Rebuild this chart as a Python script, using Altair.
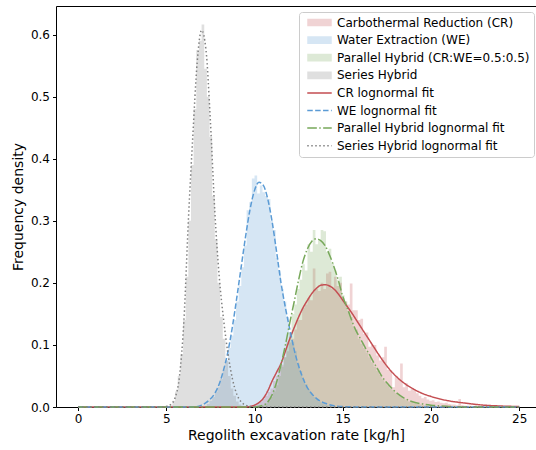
import altair as alt
import pandas as pd

# ---------------- names ----------------
HIST_NAMES = ["Carbothermal Reduction (CR)", "Water Extraction (WE)",
              "Parallel Hybrid (CR:WE=0.5:0.5)", "Series Hybrid"]
FIT_NAMES = ["CR lognormal fit", "WE lognormal fit",
             "Parallel Hybrid lognormal fit", "Series Hybrid lognormal fit"]

# ---------------- histogram (density) values ----------------
BIN_W = 0.15
cr_start = 9.7
cr_hist = [0.001, 0.002, 0.004, 0.006, 0.009, 0.013, 0.018, 0.024, 0.03, 0.042,
           0.05, 0.06, 0.068, 0.08, 0.09, 0.104, 0.11, 0.125, 0.14, 0.14,
           0.16, 0.165, 0.175, 0.172, 0.223, 0.19, 0.187, 0.2, 0.19, 0.215,
           0.218, 0.19, 0.21, 0.195, 0.2, 0.175, 0.17, 0.165, 0.199, 0.156,
           0.156, 0.14, 0.142, 0.118, 0.12, 0.097, 0.1, 0.1, 0.083, 0.075,
           0.08, 0.097, 0.06, 0.059, 0.032, 0.05, 0.045, 0.07, 0.032, 0.038,
           0.026, 0.03, 0.028, 0.022, 0.018, 0.014, 0.016, 0.012, 0.01, 0.011,
           0.008, 0.009, 0.007, 0.006, 0.007, 0.005, 0.004, 0.004, 0.003, 0.013,
           0.003, 0.002, 0.002, 0.002, 0.001, 0.002, 0.001, 0.001, 0.001, 0.0005]

we_start = 7.3
we_hist = [0.005, 0.01, 0.016, 0.024, 0.032, 0.045, 0.06, 0.075, 0.095, 0.115,
           0.14, 0.17, 0.195, 0.225, 0.26, 0.317, 0.33, 0.368, 0.373, 0.344,
           0.357, 0.346, 0.34, 0.335, 0.30, 0.285, 0.24, 0.22, 0.19, 0.17,
           0.145, 0.12, 0.105, 0.09, 0.07, 0.058, 0.045, 0.037, 0.028, 0.022,
           0.016, 0.012, 0.009, 0.006, 0.004, 0.003, 0.002, 0.001]

ph_start = 10.3
ph_hist = [0.001, 0.003, 0.006, 0.01, 0.016, 0.025, 0.035, 0.05, 0.065, 0.08,
           0.105, 0.12, 0.15, 0.165, 0.19, 0.205, 0.23, 0.22, 0.262, 0.25,
           0.285, 0.262, 0.27, 0.285, 0.283, 0.25, 0.255, 0.232, 0.22, 0.205,
           0.21, 0.18, 0.17, 0.155, 0.145, 0.13, 0.125, 0.11, 0.102, 0.095,
           0.088, 0.08, 0.072, 0.065, 0.058, 0.052, 0.045, 0.04, 0.035, 0.03,
           0.027, 0.022, 0.019, 0.016, 0.013, 0.011, 0.009, 0.008, 0.006, 0.005,
           0.004, 0.003, 0.0025, 0.002, 0.0015, 0.001]

sh_start = 5.2
sh_hist = [0.003, 0.01, 0.025, 0.05, 0.085, 0.14, 0.21, 0.30, 0.39, 0.48,
           0.575, 0.59, 0.616, 0.545, 0.50, 0.435, 0.34, 0.27, 0.20, 0.145,
           0.11, 0.075, 0.05, 0.03, 0.018, 0.009, 0.004, 0.002, 0.001]

# ---------------- lognormal fit curves ----------------
cr_fit_x = [0, 9.5, 10.0, 10.25, 10.5, 10.75, 11.0, 11.25, 11.5, 11.75, 12.0, 12.25,
            12.5, 12.75, 13.0, 13.25, 13.5, 13.75, 14.0, 14.25, 14.5, 14.75, 15.0,
            15.25, 15.5, 15.75, 16.0, 16.25, 16.5, 16.75, 17.0, 17.5, 18.0, 18.5,
            19.0, 19.5, 20.0, 20.5, 21.0, 22.0, 23.0, 24.0, 25.0]
cr_fit_y = [0, 0.0, 0.003, 0.007, 0.014, 0.026, 0.042, 0.056, 0.07, 0.09, 0.11, 0.128,
            0.145, 0.16, 0.172, 0.183, 0.191, 0.196, 0.197, 0.195, 0.19, 0.182, 0.172,
            0.162, 0.152, 0.141, 0.13, 0.119, 0.108, 0.097, 0.086, 0.066, 0.05, 0.038,
            0.029, 0.022, 0.017, 0.013, 0.01, 0.006, 0.003, 0.0015, 0.0007]

we_fit_x = [0, 6.5, 7.0, 7.25, 7.5, 7.75, 8.0, 8.25, 8.5, 8.75, 9.0, 9.25, 9.5, 9.75,
            10.0, 10.25, 10.5, 10.75, 11.0, 11.25, 11.5, 11.75, 12.0, 12.25, 12.5,
            12.75, 13.0, 13.25, 13.5, 13.75, 14.0, 14.5, 15.0, 16.0, 25.0]
we_fit_y = [0, 0.0, 0.003, 0.007, 0.013, 0.022, 0.037, 0.06, 0.09, 0.13, 0.177, 0.227,
            0.276, 0.319, 0.349, 0.362, 0.357, 0.335, 0.298, 0.25, 0.20, 0.16, 0.125,
            0.092, 0.066, 0.046, 0.031, 0.021, 0.014, 0.009, 0.006, 0.002, 0.0007, 0.0,
            0.0]

ph_fit_x = [0, 10.0, 10.5, 10.75, 11.0, 11.25, 11.5, 11.75, 12.0, 12.25, 12.5, 12.75,
            13.0, 13.25, 13.5, 13.75, 14.0, 14.25, 14.5, 14.75, 15.0, 15.25, 15.5,
            15.75, 16.0, 16.25, 16.5, 16.75, 17.0, 17.25, 17.5, 18.0, 18.5, 19.0,
            19.5, 20.0, 21.0, 22.0, 25.0]
ph_fit_y = [0, 0.0, 0.003, 0.008, 0.02, 0.04, 0.068, 0.10, 0.136, 0.17, 0.205, 0.235,
            0.255, 0.267, 0.271, 0.268, 0.26, 0.245, 0.226, 0.204, 0.178, 0.16, 0.14,
            0.123, 0.11, 0.097, 0.085, 0.072, 0.06, 0.048, 0.039, 0.024, 0.014, 0.008,
            0.005, 0.003, 0.001, 0.0, 0.0]

sh_fit_x = [0, 4.75, 5.0, 5.25, 5.5, 5.75, 6.0, 6.25, 6.5, 6.75, 7.0, 7.25, 7.5, 7.75,
            8.0, 8.25, 8.5, 8.75, 9.0, 9.25, 9.5, 9.75, 10.0, 25.0]
sh_fit_y = [0, 0.0, 0.001, 0.004, 0.015, 0.05, 0.14, 0.30, 0.435, 0.555, 0.607, 0.575,
            0.46, 0.315, 0.21, 0.14, 0.085, 0.045, 0.02, 0.008, 0.003, 0.001, 0.0, 0.0]

# ---------------- colours / styles ----------------
HIST_COLORS = ["#c44e52", "#5b9bd5", "#77a85a", "#7f7f7f"]
HIST_LEGEND_COLORS = ["#f0d3d4", "#d6e6f4", "#dde9d6", "#dfdfdf"]
FIT_COLORS = ["#c44e52", "#5b9bd5", "#77a85a", "#808080"]
FIT_DASHES = [[1, 0], [5.5, 2.4], [9.6, 2.4, 1.5, 2.4], [1.5, 2.5]]

# ---------------- tables ----------------
hist_rows = []
for name, start, vals in [(HIST_NAMES[0], cr_start, cr_hist),
                          (HIST_NAMES[1], we_start, we_hist),
                          (HIST_NAMES[2], ph_start, ph_hist),
                          (HIST_NAMES[3], sh_start, sh_hist)]:
    for i, v in enumerate(vals):
        hist_rows.append({"series": name, "x": round(start + i * BIN_W, 4), "y": v})
    hist_rows.append({"series": name, "x": round(start + len(vals) * BIN_W, 4), "y": 0.0})
hist_df = pd.DataFrame(hist_rows)
hist_df["order"] = hist_df["series"].map({n: i for i, n in enumerate(HIST_NAMES)})

fit_rows = []
for name, xs, ys in [(FIT_NAMES[0], cr_fit_x, cr_fit_y),
                     (FIT_NAMES[1], we_fit_x, we_fit_y),
                     (FIT_NAMES[2], ph_fit_x, ph_fit_y),
                     (FIT_NAMES[3], sh_fit_x, sh_fit_y)]:
    for x, y in zip(xs, ys):
        fit_rows.append({"series": name, "x": x, "y": y})
fit_df = pd.DataFrame(fit_rows)

ALL_NAMES = HIST_NAMES + FIT_NAMES
XDOM = [-1.25, 25.95]
YDOM = [0, 0.646]

x_scale = alt.Scale(domain=XDOM, nice=False, zero=False)
y_scale = alt.Scale(domain=YDOM, nice=False, zero=False)
y_axis = alt.Axis(values=[0, 0.1, 0.2, 0.3, 0.4, 0.5, 0.6], format=".1f",
                  title="Frequency density", grid=False)

legend = alt.Legend(title=None, orient="none", legendX=243, legendY=6)

hist = alt.Chart(hist_df).mark_area(interpolate="step-after", opacity=0.25).encode(
    x=alt.X("x:Q", scale=x_scale,
            axis=alt.Axis(values=[0, 5, 10, 15, 20, 25], format="d",
                          title="Regolith excavation rate [kg/h]", grid=False)),
    y=alt.Y("y:Q", scale=y_scale, stack=None, axis=y_axis),
    fill=alt.Fill("series:N", scale=alt.Scale(domain=HIST_NAMES, range=HIST_COLORS),
                  legend=None),
    detail="series:N",
    order="order:Q",
)

lines = alt.Chart(fit_df).mark_line(interpolate="monotone").encode(
    x=alt.X("x:Q", scale=x_scale,
            axis=alt.Axis(orient="top", labels=False, ticks=False, title=None,
                          grid=False, domain=True)),
    y=alt.Y("y:Q", scale=y_scale, axis=y_axis),
    stroke=alt.Stroke("series:N",
                      scale=alt.Scale(domain=ALL_NAMES,
                                      range=HIST_LEGEND_COLORS + FIT_COLORS),
                      legend=legend),
    strokeDash=alt.StrokeDash("series:N",
                              scale=alt.Scale(domain=ALL_NAMES,
                                              range=[[1, 0]] * 4 + FIT_DASHES),
                              legend=legend),
    strokeWidth=alt.StrokeWidth("series:N",
                                scale=alt.Scale(type="ordinal", domain=ALL_NAMES,
                                                range=[7.7] * 4 + [1.5] * 4),
                                legend=legend),
)

chart = alt.layer(hist, lines).resolve_axis(x="independent").properties(
    width=480, height=401,
    padding={"left": 56, "top": 6, "right": 0, "bottom": 43},
    autosize=alt.AutoSizeParams(type="none"),
).configure_view(stroke=None).configure_axis(
    labelFont="DejaVu Sans", titleFont="DejaVu Sans",
    labelFontSize=12, titleFontSize=14, titleFontWeight="normal",
    labelColor="#000000", titleColor="#000000",
    domainColor="#000000", tickColor="#000000", domainWidth=1,
    tickSize=3.5, labelPadding=3, titlePadding=4,
).configure_axisY(titlePadding=5).configure_legend(
    labelFont="DejaVu Sans", labelFontSize=12, labelColor="#000000",
    labelLimit=400, symbolType="stroke", symbolSize=600, labelOffset=1,
    padding=4, rowPadding=4.6, clipHeight=13,
    fillColor="rgba(255,255,255,0.8)", strokeColor="#cccccc", cornerRadius=3,
)

chart.save("out.html", embed_options={"renderer": "svg", "actions": False})
